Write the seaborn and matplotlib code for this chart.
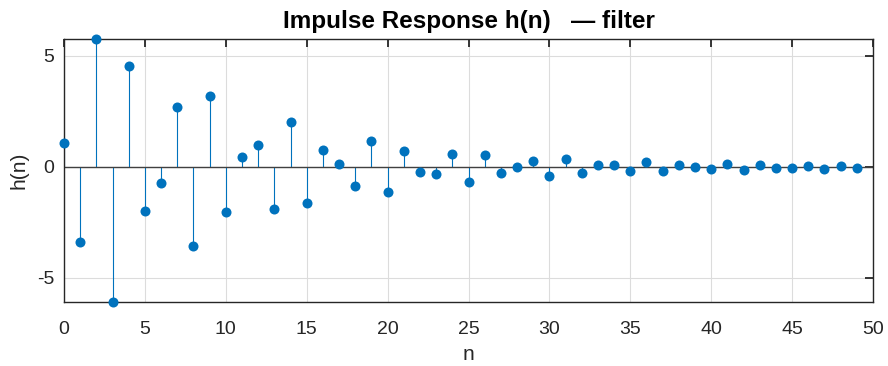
import numpy as np
import pandas as pd
import matplotlib
matplotlib.use("Agg")
import matplotlib.pyplot as plt
import seaborn as sns

# Sample index and impulse response values
n = list(range(50))
h = [1.08, -3.36, 5.75, -6.08, 4.53, -1.98, -0.74, 2.70, -3.57, 3.20,
     -2.03, 0.42, 0.98, -1.88, 2.03, -1.61, 0.74, 0.14, -0.86, 1.16,
     -1.11, 0.71, -0.21, -0.30, 0.59, -0.69, 0.54, -0.29, -0.03, 0.24,
     -0.39, 0.36, -0.26, 0.06, 0.08, -0.20, 0.21, -0.20, 0.09, -0.02,
     -0.11, 0.11, -0.14, 0.08, -0.05, -0.05, 0.05, -0.09, 0.05, -0.05]

x_ticks = [0, 5, 10, 15, 20, 25, 30, 35, 40, 45, 50]
y_ticks = [-5, 0, 5]

df = pd.DataFrame({"n": n, "h": h})

sns.set_theme(style="white")
plt.rcParams["font.family"] = ["Liberation Sans", "DejaVu Sans"]
plt.rcParams["axes.unicode_minus"] = False

blue = "#0072BD"
fig = plt.figure(figsize=(8.88, 3.66), dpi=100)
ax = fig.add_axes([64 / 888, 1 - 302 / 366, (873 - 64) / 888, (302 - 39) / 366])

# stems and baseline
ax.vlines(df["n"], 0, df["h"], color=blue, linewidth=0.8, zorder=2)
ax.axhline(0, color="#404040", linewidth=1.0, zorder=2)
sns.scatterplot(data=df, x="n", y="h", ax=ax, color=blue, s=52,
                edgecolor=blue, linewidth=0, zorder=3, legend=False,
                clip_on=False)

ax.set_xlim(0, 50)
ax.set_ylim(min(h), max(h))
ax.set_xticks(x_ticks)
ax.set_yticks(y_ticks)
ax.grid(True, color="#dcdcdc", linewidth=0.8)
ax.set_axisbelow(True)

ax.tick_params(direction="in", length=6, width=1.3, colors="#262626",
               labelsize=14, top=True, right=True, labelcolor="#262626")
ax.tick_params(axis="x", pad=14)
ax.tick_params(axis="y", pad=7)
for s in ax.spines.values():
    s.set_color("#262626")
    s.set_linewidth(1.0)
    s.set_visible(True)

ax.set_xlabel("n", fontsize=15, color="#262626", labelpad=5)
ax.set_ylabel("h(n)", fontsize=15, color="#262626", labelpad=6)
ax.set_title("Impulse Response h(n)   \u2014 filter", fontsize=17.5,
             fontweight="bold", color="black", pad=8)

fig.savefig("out.png", dpi=100)
